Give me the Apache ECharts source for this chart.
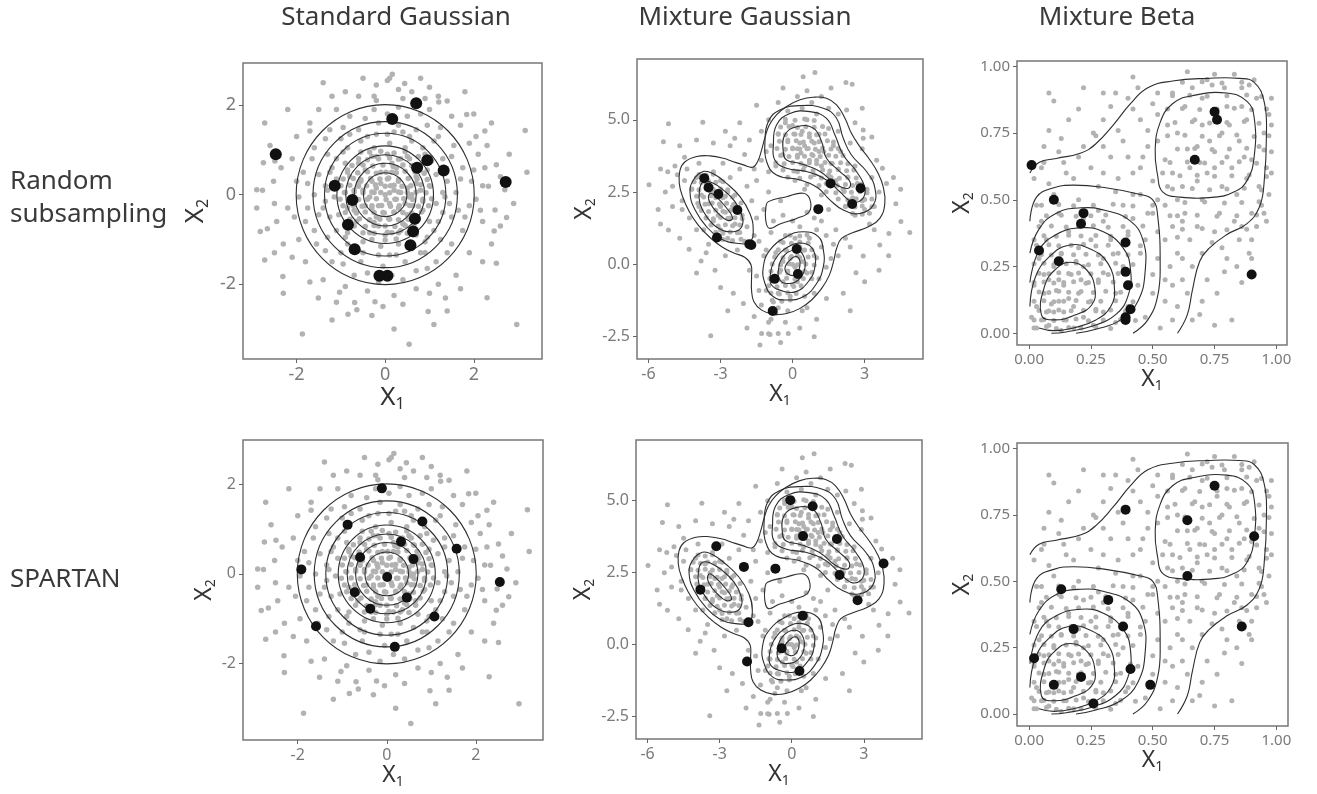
<!DOCTYPE html>
<html>
<head>
<meta charset="utf-8">
<title>Random subsampling vs SPARTAN</title>
<script src="https://cdn.jsdelivr.net/npm/echarts@6/dist/echarts.min.js"></script>
<style>
  html, body, #main { width: 100%; height: 100%; margin: 0; padding: 0; overflow: hidden; background: #fff; }
</style>
</head>
<body>
<div id="main"></div>
<script>
// labels
var colTitles = ['Standard Gaussian', 'Mixture Gaussian', 'Mixture Beta'];
var rowLabels = ['Random\nsubsampling', 'SPARTAN'];

// tick values
var stdTicks = [-2, 0, 2];
var mixXTicks = [-6, -3, 0, 3];
var mixYTicks = [-2.5, 0, 2.5, 5];
var betaTicks = [0, 0.25, 0.5, 0.75, 1];

// full samples (grey) (thinned)
var stdCloud = [
  [0.16,2.69],[0.1,2.6],[0.05,2.55],[0.44,2.48],[-2.72,1.6],[3.16,1.43],[-2.9,0.11],[-2.77,0.1],[-2.82,-0.82],[-2.66,-0.76],
  [-2.72,-1.46],[-2.31,-1.83],[-1.87,-3.11],[0.54,-3.34],[2.97,-2.9],[2.51,-1.53],[2.46,-0.81],[2.74,-0.51],[2.48,-0.34],[2.25,1.42],
  [1.84,1.79],[2.51,0.67],[2.25,0.6],[2.33,0.19],[2.7,0.11],[-1.51,-2.31],[-1.03,-2.18],[-0.84,-2.67],[-0.64,-2.57],[-0.69,-2.41],
  [-0.23,-2.39],[0.97,-2.61],[1.36,-2.31],[-2.52,0.3],[-2.49,0.75],[-2.75,0.71],[-1.7,1.42],[1.4,2.09],[1.21,2.07],[-0.25,2.2],
  [0,0],[0.2,0.1],[-0.2,0.15],[0.1,-0.2],[-0.15,-0.25],[0.35,0.05],[-0.35,-0.05],[0.05,0.35],[-0.05,-0.4],[0.3,0.3],
  [-0.3,0.3],[0.3,-0.3],[-0.3,-0.3],[0.5,0.15],[-0.5,0.1],[0.15,0.5],[-0.1,0.5],[0.45,-0.2],[-0.45,-0.25],[0.1,-0.55],
  [-0.2,-0.5],[0.55,-0.05],[-0.55,0.3],[0.2,-0.4],[-0.1,0.25],[0.12,0.2],[-0.25,0.05],[0.25,-0.1],
  [0.8,0.1],[0.7,0.4],[0.6,0.65],[0.35,0.8],[0.05,0.9],[-0.3,0.85],[-0.6,0.7],[-0.8,0.4],[-0.9,0.05],[-0.85,-0.3],
  [-0.65,-0.6],[-0.35,-0.85],[0,-0.9],[0.35,-0.8],[0.65,-0.6],[0.85,-0.35],[1.0,0.2],[0.95,0.55],[0.75,0.85],[0.45,1.05],
  [0.1,1.15],[-0.25,1.05],[-0.55,0.95],[-0.9,0.7],[-1.1,0.35],[-1.15,-0.05],[-1.05,-0.45],[-0.85,-0.85],[-0.5,-1.05],[-0.1,-1.15],
  [0.3,-1.1],[0.7,-0.9],[1.0,-0.6],[1.15,-0.2],[0.6,0.0],[-0.7,0.1],[0.15,0.7],[-0.15,-0.7],[0.5,-0.45],[-0.45,0.55],
  [1.4,0.3],[1.3,0.8],[1.1,1.2],[0.7,1.45],[0.3,1.55],[-0.15,1.6],[-0.6,1.45],[-1.0,1.25],[-1.3,0.9],[-1.5,0.45],
  [-1.6,0],[-1.5,-0.45],[-1.3,-0.95],[-1.0,-1.3],[-0.55,-1.5],[-0.05,-1.6],[0.45,-1.5],[0.9,-1.3],[1.25,-1.0],[1.5,-0.5],
  [1.6,0.05],[1.75,0.6],[1.55,1.1],[1.25,1.5],[0.8,1.8],[0.3,1.95],[-0.25,1.9],[-0.8,1.75],[-1.25,1.45],[-1.6,1.05],
  [-1.85,0.5],[-1.95,-0.05],[-1.8,-0.6],[-1.55,-1.1],[-1.2,-1.5],[-0.7,-1.8],[-0.15,-1.95],[0.4,-1.9],[0.95,-1.65],[1.4,-1.3],
  [1.75,-0.8],[1.9,-0.25],[1.95,0.3],[-2.1,0.8],[-2.2,-0.3],[2.2,-0.6],[2.1,0.9],[0.9,2.15],[-0.6,2.2],[0.2,-2.25],
  [-1.4,-1.9],[1.6,-1.8],[1.7,1.55],[-1.7,1.6],[1.2,-2.0],[-0.9,-2.05],[-2.3,-1.1],[2.3,1.1],[0.6,2.3],
  [0.25,0.6],[-0.6,0.25],[0.62,-0.25],[-0.25,-0.62],[0.9,0.9],[-0.95,0.95],[0.95,-0.95],[-0.9,-0.95],[1.3,0.05],[-1.3,0.1],
  [0.05,1.35],[0.1,-1.35],[1.2,-0.6],[-1.2,0.6],[0.6,1.2],[-0.6,-1.25],[1.45,-0.2],[-1.4,-0.3],[0.4,1.4],[-0.4,1.3],
  [0.8,-1.3],[-0.8,1.35],[0.5,0.85],[-0.85,0.55],[0.85,-0.15],[-0.2,0.85],[0.15,-0.85],[-0.7,-0.35],[0.4,-0.65],[0.7,0.25],
  [-0.35,0.95],[-0.1,0.97],[0.2,0.93],[0.45,0.96],[-0.6,0.8],[-0.4,0.78],[-0.15,0.8],[0.1,0.82],[0.3,0.79],[0.55,0.8],
  [-0.75,0.65],[-0.5,0.66],[-0.28,0.64],[-0.05,0.66],[0.18,0.63],[0.4,0.66],[0.62,0.64],[0.8,0.66],
  [-0.85,0.5],[-0.62,0.49],[-0.4,0.51],[-0.2,0.48],[0.02,0.5],[0.25,0.49],[0.45,0.52],[0.68,0.5],[0.88,0.48],
  [-0.95,0.35],[-0.72,0.36],[-0.55,0.34],[-0.33,0.36],[-0.12,0.35],[0.08,0.37],[0.3,0.34],[0.52,0.36],[0.72,0.35],[0.95,0.34],
  [-1.0,0.2],[-0.8,0.21],[-0.6,0.19],[-0.42,0.2],[-0.22,0.22],[0,0.19],[0.2,0.21],[0.38,0.19],[0.58,0.2],[0.8,0.22],[1.02,0.19],
  [-0.92,0.05],[-0.7,0.06],[-0.5,0.04],[-0.3,0.06],[-0.1,0.05],[0.1,0.04],[0.3,0.06],[0.5,0.05],[0.7,0.06],[0.92,0.04],
  [-1.02,-0.1],[-0.8,-0.09],[-0.6,-0.11],[-0.4,-0.1],[-0.2,-0.09],[0.02,-0.11],[0.22,-0.1],[0.42,-0.09],[0.62,-0.11],[0.85,-0.1],[1.05,-0.09],
  [-0.95,-0.25],[-0.72,-0.24],[-0.52,-0.26],[-0.3,-0.25],[-0.08,-0.24],[0.12,-0.26],[0.32,-0.25],[0.55,-0.24],[0.75,-0.26],[0.98,-0.25],
  [-0.9,-0.4],[-0.65,-0.41],[-0.45,-0.39],[-0.25,-0.4],[-0.02,-0.41],[0.2,-0.39],[0.4,-0.4],[0.6,-0.41],[0.82,-0.39],
  [-0.8,-0.55],[-0.58,-0.54],[-0.35,-0.56],[-0.12,-0.55],[0.08,-0.54],[0.3,-0.56],[0.52,-0.55],[0.75,-0.54],
  [-0.7,-0.7],[-0.45,-0.71],[-0.25,-0.69],[0,-0.7],[0.22,-0.71],[0.45,-0.69],[0.65,-0.7],
  [-0.5,-0.85],[-0.25,-0.86],[0.05,-0.84],[0.3,-0.85],[0.5,-0.86],[-0.3,-1.0],[0,-1.01],[0.25,-0.99],
  [1.15,0.45],[1.05,0.75],[0.85,1.05],[0.55,1.3],[0.2,1.4],[-0.2,1.35],[-0.55,1.2],[-0.85,1.05],[-1.1,0.8],[-1.25,0.5],
  [-1.35,0.2],[-1.35,-0.15],[-1.25,-0.5],[-1.1,-0.8],[-0.85,-1.1],[-0.5,-1.3],[-0.15,-1.35],[0.25,-1.35],[0.6,-1.2],[0.9,-1.05],
  [1.1,-0.8],[1.3,-0.4],[1.35,-0.05],[1.3,0.6],[1.65,-0.35],[1.7,0.35],[1.5,0.85],[1.2,1.3],[0.95,1.55],[0.5,1.75],
  [0.05,1.8],[-0.45,1.7],[-0.95,1.5],[-1.35,1.25],[-1.65,0.8],[-1.75,0.25],[-1.75,-0.3],[-1.6,-0.8],[-1.35,-1.25],[-0.95,-1.55],
  [-0.4,-1.75],[0.15,-1.8],[0.7,-1.7],[1.15,-1.5],[1.5,-1.1],[1.8,-0.5],[2.05,-0.1],[2.0,0.55],[1.9,1.15],[-2.0,0.3],
  [-2.05,-0.5],[-1.95,-1.0],[1.0,1.9],[-0.2,2.1],[0.4,2.15],[-1.1,1.9],[0.7,-2.1],[-0.4,-2.15],[1.9,-1.3],[-1.8,-1.5],
  [2.4,-1.1],[-2.5,-0.2],[2.6,0.4],[-0.05,-2.5],[1.0,2.4],[-1.2,2.2],[1.4,-2.6],[-2.2,1.9],
  [2.2,0.2],[2.15,-0.35],[2.05,1.3],[1.5,1.75],[1.2,2.2],[0.3,2.35],[-0.2,2.45],[-0.9,2.3],[-1.5,1.9],[-2.0,1.3],
  [-2.35,0.6],[-2.45,-0.6],[-2.1,-1.4],[-1.7,-1.95],[-1.1,-2.4],[-0.3,-2.7],[0.4,-2.45],[1.0,-2.2],[1.7,-2.1],[2.2,-1.5],
  [2.6,-0.7],[2.8,0.9],[2.0,1.8],[-2.6,1.1],[-2.9,-0.3],[-2.5,-1.3],[1.8,2.3],[-1.4,2.5],[0.8,2.6],[-0.5,2.6],
  [2.4,1.6],[2.9,-0.2],[-1.2,-2.8],[0.2,-3.0],[1.1,-2.9],[-2.3,-2.2],[2.3,-2.3],[3.2,0.5]
];

var mixCloud = [
  [0.44,6.49],[0.93,6.63],[2.22,6.29],[2.48,6.23],[-5.17,4.86],[-5.38,4.24],[-5.98,2.75],[-5.17,1.19],[-3.74,4.91],[-2.41,4.36],
  [4.88,1.1],[4.51,1.48],[4.01,1.07],[3.63,0.67],[2.94,0.29],[2.64,-0.29],[2.11,-1.0],[1.41,-1.18],[-3.41,-2.47],[-1.36,-2.79],
  [-1.29,-2.39],[-0.94,-2.42],[-0.6,-2.39],[-0.18,-2.39],[-4.31,0.52],[-3.81,0.12],[-3.23,-0.2],[-2.47,-1.0],[-2.05,-1.35],[2.94,4.65],
  [2.25,5.34],[2.94,4.36],[3.74,3.32],[3.91,2.8],
  [-3,2],[-3.2,2.3],[-2.8,1.8],[-3.4,2.5],[-2.6,1.6],[-3.6,2.8],[-2.4,1.4],[-3.1,1.7],[-2.9,2.3],[-3.5,2.1],
  [-2.5,2.0],[-3.3,1.5],[-2.7,2.5],[-3.8,2.4],[-2.2,1.1],[-4.0,3.0],[-3.9,2.0],[-2.1,1.7],[-3.0,1.2],[-3.0,2.9],
  [-4.2,2.6],[-1.9,1.3],[-3.6,1.6],[-2.4,2.4],[-4.4,3.3],[-2.0,0.8],[-3.3,3.2],[-4.6,2.2],[-2.7,0.9],[-3.7,1.2],
  [-4.8,3.1],[-1.6,1.0],[-3.9,3.5],[-2.3,0.5],[-4.3,1.6],[-5.0,2.7],[-3.5,0.7],[-2.9,3.5],[-4.9,3.4],[-1.5,1.6],
  [-2.6,3.0],[-5.2,3.2],
  [0,0],[0.2,0.3],[-0.2,-0.3],[0.1,-0.1],[-0.1,0.2],[0.3,0.6],[-0.4,-0.6],[0.4,0.1],[-0.4,0.1],[0.0,-0.7],
  [0.1,0.9],[-0.6,-1.0],[0.5,0.5],[-0.5,-0.2],[0.6,-0.3],[-0.3,0.5],[0.2,-0.6],[-0.8,-1.3],[0.7,0.9],[-0.1,-1.1],
  [0.9,0.3],[-0.9,-0.5],[0.3,1.3],[-0.7,-1.7],[1.0,1.2],[-1.1,-0.9],[0.8,-0.5],[-0.2,-1.6],[0.5,-1.1],[-1.3,-1.4],
  [1.2,0.6],[-0.5,0.8],[-1.0,-2.0],[0.4,-1.6],[1.4,1.0],[-1.5,-0.4],[-0.3,-2.0],[0.9,-1.0],[-1.2,0.3],[1.6,0.2],
  [-0.7,0.4],
  [0.3,4.2],[0.6,4.0],[0.1,4.5],[0.8,3.8],[0.4,4.6],[1.0,3.6],[0.0,4.0],[1.2,3.4],[0.7,4.4],[1.5,3.1],
  [0.2,3.7],[1.8,2.9],[0.9,4.2],[2.1,2.6],[-0.2,4.3],[1.3,3.9],[2.3,3.0],[0.5,3.4],[1.6,3.5],[2.5,2.3],
  [0.0,4.8],[1.1,4.5],[1.9,3.3],[2.7,2.8],[-0.4,3.8],[0.6,5.0],[1.4,2.8],[2.2,2.0],[0.9,3.1],[2.9,2.2],
  [-0.3,4.9],[1.0,5.2],[1.7,4.1],[2.6,3.4],[0.2,3.2],[3.1,2.6],[-0.6,4.5],[0.4,5.4],[1.5,4.7],[2.0,3.9],
  [3.0,1.9],[0.1,2.9],[1.2,2.4],[2.6,1.7],[-0.7,3.4],[1.9,4.6],[3.3,3.0],[0.8,5.6],[-0.2,5.3],[1.5,5.4],
  [3.4,2.0],[2.4,4.2],[3.2,1.4],[0.5,2.6],[-0.9,4.1],[0.5,4.1],[0.2,4.0],[0.7,3.6],[0.35,3.85],[1.1,3.9],
  [-1.0,2.5],[-0.5,2.2],[-1.5,2.9],[-0.8,1.5],[-1.3,3.6],[-1.8,4.3],[-0.3,1.0],[0.6,1.8],[1.2,1.5],[-1.2,1.9],
  [-2.0,3.8],[-1.0,3.2],[1.8,1.2],[2.2,0.9],[-2.6,4.1],[0.0,1.5],[-1.7,2.2],
  [-0.3,5.02],[0.1,4.98],[0.5,5.03],[0.9,4.97],[-0.5,4.75],[-0.15,4.77],[0.2,4.73],[0.55,4.76],[0.9,4.74],[1.25,4.77],
  [-0.6,4.52],[-0.3,4.48],[0.05,4.51],[0.35,4.49],[0.7,4.52],[1.0,4.48],[1.35,4.51],
  [-0.55,4.26],[-0.2,4.24],[0.15,4.27],[0.45,4.23],[0.8,4.26],[1.1,4.24],[1.45,4.27],[1.7,4.23],
  [-0.65,4.01],[-0.3,3.98],[0.0,4.02],[0.3,3.99],[0.65,4.01],[0.95,3.98],[1.25,4.02],[1.6,3.99],[1.9,4.01],
  [-0.5,3.76],[-0.15,3.73],[0.2,3.77],[0.5,3.74],[0.85,3.76],[1.15,3.73],[1.5,3.77],[1.8,3.74],[2.1,3.76],
  [-0.7,3.51],[-0.35,3.48],[0.0,3.52],[0.35,3.49],[0.7,3.51],[1.0,3.48],[1.35,3.52],[1.65,3.49],[2.0,3.51],[2.3,3.48],
  [-0.4,3.26],[0.05,3.23],[0.45,3.27],[0.85,3.24],[1.25,3.26],[1.55,3.23],[1.9,3.27],[2.25,3.24],[2.55,3.26],
  [-0.2,3.01],[0.3,2.98],[0.75,3.02],[1.2,2.99],[1.6,3.01],[1.95,2.98],[2.3,3.02],[2.65,2.99],
  [0.6,2.76],[1.1,2.73],[1.5,2.77],[1.85,2.74],[2.2,2.76],[2.5,2.73],[2.85,2.77],
  [1.4,2.51],[1.8,2.48],[2.15,2.52],[2.45,2.49],[2.8,2.51],[3.1,2.48],[1.9,2.26],[2.3,2.23],[2.65,2.27],[3.0,2.24],
  [3.3,2.26],[2.2,2.01],[2.6,1.98],[2.9,2.02],[3.3,1.99],[2.5,1.76],[2.9,1.73],[3.2,1.77],
  [-3.9,3.11],[-3.6,3.08],[-3.3,3.12],[-4.1,2.86],[-3.8,2.83],[-3.5,2.87],[-3.2,2.84],[-2.9,2.86],
  [-4.2,2.61],[-3.9,2.58],[-3.6,2.62],[-3.3,2.59],[-3.0,2.61],[-2.7,2.58],[-4.0,2.36],[-3.7,2.33],[-3.4,2.37],[-3.1,2.34],
  [-2.8,2.36],[-2.5,2.33],[-3.95,2.11],[-3.65,2.08],[-3.35,2.12],[-3.05,2.09],[-2.75,2.11],[-2.45,2.08],[-2.15,2.12],
  [-3.8,1.86],[-3.5,1.83],[-3.2,1.87],[-2.9,1.84],[-2.6,1.86],[-2.3,1.83],[-3.6,1.61],[-3.3,1.58],[-3.0,1.62],[-2.7,1.59],
  [-2.4,1.61],[-2.1,1.58],[-3.4,1.36],[-3.1,1.33],[-2.8,1.37],[-2.5,1.34],[-2.2,1.36],[-3.2,1.11],[-2.9,1.08],[-2.6,1.12],
  [-2.3,1.09],[-2.9,0.86],[-2.5,0.83],[-2.15,0.87],
  [-0.1,1.01],[0.3,0.98],[0.6,1.02],[-0.4,0.76],[-0.05,0.73],[0.3,0.77],[0.65,0.74],[-0.6,0.51],[-0.25,0.48],[0.1,0.52],
  [0.45,0.49],[0.8,0.51],[-0.75,0.26],[-0.4,0.23],[-0.05,0.27],[0.3,0.24],[0.65,0.26],[1.0,0.23],[-0.85,0.01],[-0.5,-0.02],
  [-0.15,0.02],[0.2,-0.01],[0.55,0.01],[0.9,-0.02],[-0.9,-0.24],[-0.55,-0.27],[-0.2,-0.23],[0.15,-0.26],[0.5,-0.24],[0.8,-0.27],
  [-0.95,-0.49],[-0.6,-0.52],[-0.25,-0.48],[0.1,-0.51],[0.45,-0.49],[-1.0,-0.74],[-0.65,-0.77],[-0.3,-0.73],[0.05,-0.76],[0.35,-0.74],
  [-0.9,-0.99],[-0.55,-1.02],[-0.2,-0.98],[0.15,-1.01],[-0.85,-1.24],[-0.45,-1.27],[-0.1,-1.23],[-0.6,-1.5],
  [-1.4,0.8],[-1.1,0.5],[-0.9,1.1],[0.9,1.6],[1.5,1.9],[1.7,0.7],[2.4,0.6],[-0.4,1.7],[-1.6,3.3],[-2.2,3.3],
  [-1.9,2.7],[-4.5,2.9],[-4.6,1.9],[-4.0,1.2],[-3.6,0.4],[-2.8,0.3],[-1.8,-0.2],[-1.4,-0.9],[-1.6,-1.8],[-0.9,-1.9],
  [0.6,-1.5],[1.1,-0.5],[1.4,-0.1],[1.9,0.3],[3.4,1.2],[3.6,2.5],[3.5,3.6],[2.9,4.0],[2.6,4.9],[1.9,5.2],
  [1.2,5.8],[0.2,5.8],[-0.6,5.6],[-1.0,5.0],[-1.3,4.6],[-1.1,3.9],[-5.5,3.3],[-4.7,4.1],[-5.6,1.9],[4.3,2.1],
  [-5.0,2.0],[-5.3,2.5],[-4.5,3.7],[-4.0,4.3],[-3.3,4.2],[-2.8,4.6],[-2.2,4.9],[-1.5,5.5],[-0.4,6.1],[0.6,6.0],
  [1.6,6.1],[2.9,5.4],[3.3,4.4],[4.2,3.0],[4.5,2.6],[4.0,0.3],[3.0,-0.6],[2.4,-1.6],[1.0,-1.9],[0.3,-2.2],
  [-0.5,-2.7],[-1.9,-2.2],[-2.7,-1.6],[-3.0,-0.8],[-4.0,-0.3],[-4.7,0.9],[-5.5,1.4],[-1.0,-2.4],[0.9,-2.5],[3.6,-0.2]
];

var betaCloud = [
  [0.08,0.9],[0.1,0.87],[0.13,0.73],[0.26,0.75],[0.75,0.03],[0.79,0.23],[0.69,0.07],[0.86,0.19],[0.98,0.88],[0.89,0.93],
  [0.75,0.97],[0.83,0.97],
  [0.02,0.02],[0.05,0.05],[0.08,0.03],[0.03,0.1],[0.1,0.08],[0.12,0.12],[0.06,0.15],[0.15,0.05],[0.18,0.1],[0.14,0.18],
  [0.08,0.2],[0.2,0.15],[0.22,0.06],[0.1,0.25],[0.17,0.22],[0.25,0.12],[0.04,0.28],[0.13,0.3],[0.22,0.25],[0.28,0.2],
  [0.3,0.08],[0.02,0.18],[0.26,0.03],[0.2,0.32],[0.3,0.28],[0.35,0.15],[0.07,0.35],[0.16,0.38],[0.25,0.35],[0.33,0.35],
  [0.38,0.25],[0.4,0.1],[0.35,0.04],[0.05,0.42],[0.12,0.45],[0.22,0.43],[0.3,0.42],[0.4,0.38],[0.45,0.3],[0.44,0.18],
  [0.47,0.06],[0.02,0.35],[0.18,0.02],[0.11,0.16],[0.19,0.27],[0.27,0.09],[0.09,0.11],[0.14,0.08],[0.06,0.22],[0.24,0.19],
  [0.32,0.22],[0.36,0.3],[0.42,0.43],[0.01,0.06],[0.13,0.01],[0.38,0.48],[0.5,0.22],[0.52,0.38],[0.48,0.45],[0.55,0.12],
  [0.53,0.02],[0.03,0.48],[0.1,0.52],[0.2,0.5],[0.28,0.55],[0.35,0.53],[0.16,0.13],[0.12,0.2],[0.21,0.2],[0.07,0.08],
  [0.02,0.58],[0.06,0.64],[0.15,0.6],[0.25,0.62],[0.33,0.66],[0.42,0.6],[0.45,0.52],[0.5,0.57],[0.55,0.48],[0.58,0.4],
  [0.6,0.3],[0.12,0.68],[0.22,0.7],[0.38,0.72],[0.45,0.8],[0.3,0.8],[0.4,0.88],[0.35,0.9],[0.2,0.84],[0.48,0.7],
  [0.52,0.82],[0.55,0.65],[0.58,0.9],[0.62,0.2],[0.65,0.35],[0.66,0.05],[0.08,0.76],[0.28,0.46],[0.47,0.35],[0.57,0.25],
  [0.62,0.55],[0.65,0.62],[0.68,0.7],[0.7,0.78],[0.72,0.6],[0.75,0.68],[0.78,0.75],[0.8,0.85],[0.82,0.62],[0.85,0.72],
  [0.88,0.8],[0.9,0.65],[0.92,0.88],[0.95,0.75],[0.6,0.75],[0.63,0.85],[0.66,0.92],[0.7,0.88],[0.74,0.93],[0.78,0.55],
  [0.84,0.52],[0.88,0.58],[0.93,0.55],[0.96,0.62],[0.97,0.82],[0.86,0.92],[0.76,0.82],[0.73,0.72],[0.8,0.66],[0.69,0.64],
  [0.64,0.69],[0.58,0.6],[0.6,0.5],[0.7,0.5],[0.77,0.45],[0.83,0.42],[0.9,0.45],[0.94,0.48],[0.98,0.68],[0.91,0.95],
  [0.67,0.8],[0.72,0.95],[0.79,0.92],[0.86,0.85],[0.93,0.7],[0.81,0.78],[0.75,0.62],[0.68,0.57],[0.63,0.45],[0.87,0.66],
  [0.92,0.4],[0.85,0.35],[0.75,0.38],[0.7,0.3],[0.96,0.42],[0.89,0.3],[0.8,0.28],
  [0.03,0.02],[0.07,0.025],[0.11,0.018],[0.16,0.022],[0.21,0.02],[0.27,0.024],[0.33,0.018],
  [0.02,0.05],[0.06,0.052],[0.1,0.048],[0.14,0.05],[0.19,0.053],[0.24,0.047],[0.3,0.05],[0.37,0.052],[0.43,0.048],
  [0.04,0.085],[0.08,0.083],[0.12,0.087],[0.17,0.084],[0.22,0.086],[0.27,0.083],[0.33,0.087],[0.39,0.084],
  [0.02,0.12],[0.06,0.122],[0.1,0.118],[0.14,0.12],[0.19,0.123],[0.24,0.117],[0.29,0.12],[0.35,0.122],[0.42,0.118],
  [0.04,0.155],[0.08,0.153],[0.12,0.157],[0.16,0.154],[0.21,0.156],[0.26,0.153],[0.31,0.157],[0.37,0.154],
  [0.02,0.19],[0.06,0.192],[0.1,0.188],[0.14,0.19],[0.18,0.193],[0.23,0.187],[0.28,0.19],[0.34,0.192],[0.41,0.188],
  [0.04,0.225],[0.08,0.223],[0.12,0.227],[0.16,0.224],[0.2,0.226],[0.25,0.223],[0.3,0.227],[0.36,0.224],
  [0.02,0.26],[0.06,0.262],[0.1,0.258],[0.15,0.26],[0.19,0.263],[0.24,0.257],[0.29,0.26],[0.35,0.262],[0.42,0.258],
  [0.05,0.295],[0.09,0.293],[0.13,0.297],[0.18,0.294],[0.23,0.296],[0.28,0.293],[0.34,0.297],[0.4,0.294],
  [0.03,0.33],[0.08,0.332],[0.12,0.328],[0.17,0.33],[0.22,0.333],[0.27,0.327],[0.32,0.33],[0.38,0.332],[0.45,0.328],
  [0.06,0.365],[0.11,0.363],[0.16,0.367],[0.21,0.364],[0.27,0.366],[0.33,0.363],[0.4,0.367],
  [0.04,0.4],[0.09,0.402],[0.15,0.398],[0.2,0.4],[0.26,0.403],[0.32,0.397],[0.38,0.4],[0.46,0.402],
  [0.07,0.44],[0.13,0.442],[0.19,0.438],[0.25,0.44],[0.31,0.443],[0.39,0.437],
  [0.05,0.48],[0.12,0.482],[0.18,0.478],[0.26,0.48],[0.34,0.483],[0.42,0.477],[0.5,0.48],
  [0.62,0.94],[0.7,0.942],[0.78,0.938],[0.86,0.94],[0.58,0.89],[0.65,0.892],[0.72,0.888],[0.8,0.89],[0.88,0.893],[0.94,0.887],
  [0.56,0.84],[0.62,0.842],[0.69,0.838],[0.76,0.84],[0.83,0.843],[0.9,0.837],[0.96,0.84],
  [0.59,0.79],[0.66,0.792],[0.73,0.788],[0.8,0.79],[0.87,0.793],[0.93,0.787],
  [0.56,0.74],[0.63,0.742],[0.7,0.738],[0.77,0.74],[0.84,0.743],[0.91,0.737],[0.97,0.74],
  [0.6,0.69],[0.67,0.692],[0.74,0.688],[0.81,0.69],[0.88,0.693],[0.95,0.687],
  [0.57,0.64],[0.64,0.642],[0.71,0.638],[0.78,0.64],[0.85,0.643],[0.92,0.637],
  [0.61,0.59],[0.68,0.592],[0.75,0.588],[0.82,0.59],[0.89,0.593],[0.96,0.587],
  [0.58,0.54],[0.66,0.542],[0.73,0.538],[0.8,0.54],[0.87,0.543],[0.94,0.537],
  [0.63,0.49],[0.71,0.492],[0.79,0.488],[0.86,0.49],[0.93,0.493],[0.6,0.44],[0.68,0.442],[0.76,0.438],[0.84,0.44],[0.92,0.443],
  [0.62,0.39],[0.7,0.392],[0.8,0.388],[0.88,0.39],
  [0.45,0.62],[0.4,0.66],[0.48,0.76],[0.52,0.72],[0.5,0.45],[0.55,0.35],[0.58,0.18],[0.6,0.1],[0.52,0.28],[0.3,0.6],
  [0.18,0.58],[0.08,0.56],[0.36,0.58],[0.42,0.52],[0.56,0.55],[0.62,0.42],[0.66,0.25],[0.64,0.15],[0.72,0.2],[0.78,0.32],
  [0.27,0.74],[0.33,0.85],[0.16,0.8],[0.44,0.92],[0.52,0.9],[0.98,0.6],[0.98,0.78],[0.97,0.52],[0.9,0.35],[0.84,0.25],
  [0.06,0.7],[0.14,0.64],[0.2,0.66],[0.3,0.7],[0.36,0.76],[0.42,0.84],[0.5,0.86],[0.56,0.78],[0.46,0.66],[0.54,0.6],
  [0.52,0.5],[0.57,0.44],[0.6,0.36],[0.55,0.2],[0.5,0.15],[0.58,0.05],[0.62,0.28],[0.68,0.4],[0.74,0.34],[0.86,0.4],
  [0.95,0.45],[0.7,0.12],[0.76,0.15],[0.82,0.05],[0.9,0.28],[0.22,0.92],[0.3,0.9],[0.42,0.96],[0.64,0.98],[0.05,0.62]
];

// selected subsamples (black)
var stdRandom = [[0.7,2.04],[0.16,1.69],[-2.47,0.9],[0.95,0.77],[0.72,0.6],[1.32,0.54],[-1.14,0.2],[2.72,0.28],[-0.74,-0.12],[0.67,-0.54],[-0.84,-0.67],[0.63,-0.82],[0.57,-1.13],[-0.69,-1.22],[-0.13,-1.81],[0.05,-1.81]];
var stdSpartan = [[-0.11,1.91],[-0.88,1.1],[0.8,1.17],[0.32,0.72],[1.57,0.56],[-0.6,0.37],[0.6,0.33],[-1.92,0.1],[0.01,-0.07],[2.54,-0.18],[-0.72,-0.41],[0.45,-0.53],[-0.37,-0.78],[1.07,-0.95],[-1.59,-1.17],[0.18,-1.63]];
var mixRandom = [[-3.68,2.98],[-3.5,2.66],[-3.09,2.43],[-2.3,1.88],[-3.15,0.93],[-1.8,0.7],[-1.72,0.67],[1.58,2.8],[2.83,2.63],[2.48,2.09],[1.07,1.91],[0.17,0.53],[0.22,-0.33],[-0.75,-0.5],[-0.83,-1.61]];
var mixSpartan = [[-0.06,5.02],[0.87,4.81],[0.47,3.77],[1.88,3.67],[-3.14,3.42],[-1.99,2.7],[-0.68,2.64],[1.99,2.42],[3.82,2.82],[-3.8,1.91],[2.74,1.54],[-1.8,0.78],[0.46,1.0],[-0.42,-0.13],[-1.86,-0.59],[0.32,-0.92]];
var betaRandom = [[0.01,0.63],[0.1,0.5],[0.22,0.45],[0.21,0.41],[0.04,0.31],[0.12,0.27],[0.39,0.34],[0.39,0.23],[0.4,0.18],[0.41,0.09],[0.39,0.06],[0.39,0.05],[0.75,0.83],[0.76,0.8],[0.67,0.65],[0.9,0.22]];
var betaSpartan = [[0.39,0.77],[0.75,0.86],[0.64,0.73],[0.91,0.67],[0.64,0.52],[0.13,0.47],[0.32,0.43],[0.38,0.33],[0.18,0.32],[0.86,0.33],[0.02,0.21],[0.41,0.17],[0.21,0.14],[0.1,0.11],[0.49,0.11],[0.26,0.04]];

// density contours
var stdRadii = [0.49, 0.7, 0.89, 1.09, 1.37, 1.63, 2.01];

var mixLoops = [
  [[-1.66,3.36],[-2.05,3.44],[-2.47,3.55],[-2.88,3.67],[-3.44,3.75],[-3.99,3.73],[-4.48,3.55],[-4.69,3.26],[-4.72,2.8],[-4.58,2.34],[-4.3,1.82],[-3.93,1.36],[-3.44,0.93],[-2.95,0.61],[-2.47,0.4],[-1.98,0.24],[-1.73,-0.02],[-1.71,-0.43],[-1.71,-0.89],[-1.61,-1.29],[-1.29,-1.58],[-0.8,-1.72],[-0.25,-1.7],[0.31,-1.52],[0.79,-1.23],[1.21,-0.83],[1.53,-0.37],[1.72,0.15],[1.83,0.55],[2.04,0.9],[2.52,1.1],[3.15,1.3],[3.63,1.59],[3.84,2.11],[3.77,2.69],[3.56,3.15],[3.22,3.61],[2.8,4.07],[2.45,4.53],[2.18,5.05],[1.83,5.51],[1.41,5.74],[0.86,5.78],[0.31,5.69],[-0.25,5.46],[-0.67,5.17],[-0.97,4.82],[-1.15,4.39],[-1.29,3.96],[-1.46,3.55]],
  [[-1.01,2.17],[-0.25,2.34],[0.44,2.46],[0.72,2.25],[0.69,1.82],[0.17,1.59],[-0.53,1.4],[-0.97,1.25],[-1.12,1.53],[-1.11,2.0]],
  [[-3.72,3.21],[-4.13,2.92],[-4.27,2.46],[-4.06,1.88],[-3.58,1.3],[-3.02,0.9],[-2.33,0.73],[-1.78,0.78],[-1.64,1.19],[-1.78,1.76],[-2.19,2.34],[-2.75,2.8],[-3.3,3.13]],
  [[-3.72,2.86],[-3.88,2.57],[-3.86,2.11],[-3.58,1.65],[-3.09,1.25],[-2.47,1.13],[-2.12,1.3],[-2.12,1.71],[-2.4,2.17],[-2.88,2.57],[-3.37,2.83]],
  [[-3.45,2.45],[-3.2,2.35],[-2.75,1.95],[-2.5,1.6],[-2.7,1.52],[-3.05,1.72],[-3.45,2.15]],
  [[-1.15,4.24],[-1.01,4.94],[-0.53,5.34],[0.31,5.49],[1.28,5.4],[1.83,5.05],[2.11,4.36],[2.45,3.78],[3.08,3.21],[3.43,2.63],[3.36,2.05],[2.8,1.76],[2.11,1.88],[1.55,2.23],[1.07,2.63],[0.31,2.92],[-0.67,3.09],[-1.08,3.55]],
  [[-0.8,4.13],[-0.67,4.82],[-0.11,5.22],[0.72,5.28],[1.41,5.05],[1.76,4.48],[2.11,3.78],[2.66,3.21],[3.01,2.63],[2.87,2.23],[2.45,2.17],[1.97,2.51],[1.41,2.92],[0.58,3.21],[-0.25,3.32],[-0.74,3.61]],
  [[-0.39,3.9],[-0.32,4.48],[0.17,4.76],[0.86,4.71],[1.21,4.24],[1.41,3.67],[1.97,3.21],[2.39,2.86],[2.32,2.63],[1.83,2.75],[1.14,3.21],[0.31,3.49],[-0.25,3.61]],
  [[-1.22,-0.08],[-0.94,0.5],[-0.25,0.96],[0.44,1.13],[1.07,0.96],[1.28,0.5],[1.28,-0.08],[1.0,-0.66],[0.44,-1.12],[-0.25,-1.23],[-0.8,-1.12],[-1.15,-0.66]],
  [[-0.94,-0.43],[-0.74,0.15],[-0.18,0.61],[0.44,0.73],[0.86,0.5],[0.93,-0.08],[0.65,-0.6],[0.1,-0.95],[-0.53,-0.89],[-0.87,-0.72]],
  [[-0.6,-0.25],[-0.39,0.27],[0.1,0.5],[0.44,0.32],[0.51,-0.14],[0.24,-0.54],[-0.25,-0.66],[-0.53,-0.54]],
  [[-0.32,-0.14],[-0.11,0.15],[0.17,0.27],[0.31,0.03],[0.17,-0.31],[-0.11,-0.37]]
];

var betaLoops = [
  [[0.53,0.79],[0.58,0.86],[0.66,0.89],[0.8,0.9],[0.88,0.87],[0.91,0.81],[0.91,0.66],[0.88,0.57],[0.83,0.53],[0.75,0.51],[0.61,0.51],[0.54,0.53],[0.52,0.59],[0.51,0.69]],
  [[0.05,0.068],[0.064,0.18],[0.104,0.237],[0.165,0.266],[0.233,0.237],[0.266,0.168],[0.253,0.106],[0.185,0.068],[0.104,0.05]]
];
var betaCurves = [
  [[0.003,0.6],[0.04,0.64],[0.11,0.655],[0.21,0.675],[0.27,0.71],[0.34,0.78],[0.41,0.86],[0.48,0.92],[0.58,0.945],[0.72,0.955],[0.85,0.955],[0.91,0.94],[0.95,0.87],[0.96,0.75],[0.95,0.56],[0.93,0.47],[0.88,0.41],[0.8,0.37],[0.73,0.32],[0.69,0.27],[0.66,0.16],[0.64,0.07],[0.6,0.0]],
  [[0.003,0.42],[0.03,0.51],[0.1,0.545],[0.18,0.555],[0.31,0.545],[0.45,0.52],[0.5,0.5],[0.52,0.44],[0.53,0.26],[0.52,0.14],[0.48,0.05],[0.42,0.0]],
  [[0.003,0.3],[0.04,0.39],[0.11,0.45],[0.21,0.47],[0.31,0.46],[0.41,0.42],[0.46,0.35],[0.47,0.24],[0.44,0.12],[0.37,0.05],[0.27,0.015],[0.19,0.0]],
  [[0.003,0.19],[0.04,0.31],[0.11,0.37],[0.21,0.395],[0.3,0.38],[0.38,0.32],[0.41,0.24],[0.4,0.14],[0.35,0.07],[0.25,0.025],[0.15,0.005],[0.09,0.0]],
  [[0.003,0.1],[0.025,0.21],[0.08,0.285],[0.16,0.33],[0.25,0.315],[0.32,0.26],[0.345,0.17],[0.33,0.1],[0.27,0.05],[0.18,0.02],[0.1,0.01],[0.04,0.02]]
];

var FONT = '"Noto Sans", sans-serif';
var GREY = '#b2b2b2';

// panel geometry
var panels = [
  {left: 243, top: 63, width: 299, height: 296, x: [-3.21, 3.54], y: [-3.67, 2.94], xt: stdTicks, yt: stdTicks, fmtX: 0, fmtY: 0, fs: 18, nfs: 26, xGap: 22, yGap: 32, cloud: stdCloud, pick: stdRandom, dot: 12, ps: 5.5},
  {left: 637, top: 59, width: 286, height: 300, x: [-6.48, 5.43], y: [-3.27, 7.1], xt: mixXTicks, yt: mixYTicks, fmtX: 0, fmtY: 1, fs: 16, nfs: 23, xGap: 20, yGap: 36, cloud: mixCloud, pick: mixRandom, dot: 10, ps: 5},
  {left: 1017, top: 61, width: 270, height: 284, x: [-0.049, 1.043], y: [-0.044, 1.02], xt: betaTicks, yt: betaTicks, fmtX: 2, fmtY: 2, fs: 15, nfs: 23, xGap: 20, yGap: 40, cloud: betaCloud, pick: betaRandom, dot: 10, ps: 5},
  {left: 243, top: 440, width: 300, height: 300, x: [-3.23, 3.51], y: [-3.71, 2.99], xt: stdTicks, yt: stdTicks, fmtX: 0, fmtY: 0, fs: 16, nfs: 23, xGap: 20, yGap: 24, cloud: stdCloud, pick: stdSpartan, dot: 10, ps: 5.5},
  {left: 636, top: 440, width: 286, height: 299, x: [-6.48, 5.42], y: [-3.28, 7.11], xt: mixXTicks, yt: mixYTicks, fmtX: 0, fmtY: 1, fs: 16, nfs: 23, xGap: 20, yGap: 36, cloud: mixCloud, pick: mixSpartan, dot: 10, ps: 5},
  {left: 1017, top: 443, width: 271, height: 283, x: [-0.049, 1.047], y: [-0.045, 1.021], xt: betaTicks, yt: betaTicks, fmtX: 2, fmtY: 2, fs: 15, nfs: 23, xGap: 20, yGap: 40, cloud: betaCloud, pick: betaSpartan, dot: 10, ps: 5}
];

function axisName(sub, size) {
  return {
    name: '{b|X}{s|' + sub + '}',
    nameTextStyle: {
      rich: {
        b: { fontSize: size, fontFamily: FONT, color: '#333', lineHeight: size + 4 },
        s: { fontSize: Math.round(size * 0.62), fontFamily: FONT, color: '#333', verticalAlign: 'bottom', lineHeight: size + 4 }
      }
    }
  };
}

function makeAxis(p, i, dim) {
  var isX = dim === 'x';
  var ticks = isX ? p.xt : p.yt;
  var digits = isX ? p.fmtX : p.fmtY;
  var n = axisName(isX ? '1' : '2', p.nfs);
  return {
    type: 'value', gridIndex: i,
    min: isX ? p.x[0] : p.y[0], max: isX ? p.x[1] : p.y[1],
    name: n.name, nameTextStyle: n.nameTextStyle,
    nameLocation: 'middle', nameGap: isX ? p.xGap : p.yGap,
    nameRotate: isX ? 0 : 90,
    axisLine: { show: false, onZero: false },
    splitLine: { show: false },
    axisTick: { show: true, length: 4, customValues: ticks, lineStyle: { color: '#666', width: 1 } },
    axisLabel: {
      customValues: ticks, color: '#7a7a7a', fontSize: p.fs, fontFamily: FONT, margin: 7,
      formatter: function (v) { return Number(v).toFixed(digits); }
    }
  };
}

function contourSeries(i, lines, closed) {
  return {
    type: 'custom', xAxisIndex: i, yAxisIndex: i, silent: true, z: 3, clip: true,
    data: lines.map(function (_, k) { return [0, 0, k]; }),
    renderItem: function (params, api) {
      var pts = lines[api.value(2)].map(function (q) { return api.coord(q); });
      return {
        type: closed ? 'polygon' : 'polyline',
        shape: { points: pts, smooth: 0.45 },
        style: { fill: 'none', stroke: '#2e2e2e', lineWidth: 1.1 }
      };
    }
  };
}

function circleSeries(i) {
  return {
    type: 'custom', xAxisIndex: i, yAxisIndex: i, silent: true, z: 3,
    data: stdRadii.map(function (r) { return [0, 0, r]; }),
    renderItem: function (params, api) {
      var c = api.coord([api.value(0), api.value(1)]);
      var s = api.size([api.value(2), api.value(2)]);
      return {
        type: 'ellipse',
        shape: { cx: c[0], cy: c[1], rx: s[0], ry: s[1] },
        style: { fill: 'none', stroke: '#2e2e2e', lineWidth: 1.1 }
      };
    }
  };
}

var grids = [], xAxes = [], yAxes = [], series = [];
panels.forEach(function (p, i) {
  grids.push({ left: p.left, top: p.top, width: p.width, height: p.height, show: true, borderColor: '#777', borderWidth: 1.5, backgroundColor: '#fff' });
  xAxes.push(makeAxis(p, i, 'x'));
  yAxes.push(makeAxis(p, i, 'y'));
  series.push({ type: 'scatter', xAxisIndex: i, yAxisIndex: i, data: p.cloud, symbolSize: p.ps, itemStyle: { color: GREY, opacity: 1 }, silent: true, z: 2 });
  var col = i % 3;
  if (col === 0) series.push(circleSeries(i));
  if (col === 1) series.push(contourSeries(i, mixLoops, true));
  if (col === 2) {
    series.push(contourSeries(i, betaLoops, true));
    series.push(contourSeries(i, betaCurves, false));
  }
  series.push({ type: 'scatter', xAxisIndex: i, yAxisIndex: i, data: p.pick, symbolSize: p.dot, itemStyle: { color: '#111', opacity: 1 }, silent: true, z: 4 });
});

var colX = [396, 745, 1117];
var texts = colTitles.map(function (t, k) {
  return { type: 'text', x: colX[k], y: 18, style: { text: t, font: '26px ' + FONT, fill: '#3a3a3a', align: 'center', verticalAlign: 'middle' } };
});
texts.push({ type: 'text', x: 10, y: 198, style: { text: rowLabels[0], font: '26px ' + FONT, fill: '#3a3a3a', align: 'left', verticalAlign: 'middle', lineHeight: 33 } });
texts.push({ type: 'text', x: 10, y: 580, style: { text: rowLabels[1], font: '26px ' + FONT, fill: '#3a3a3a', align: 'left', verticalAlign: 'middle' } });

var chart = echarts.init(document.getElementById('main'), null, { renderer: 'canvas' });
chart.setOption({
  animation: false,
  backgroundColor: '#fff',
  grid: grids,
  xAxis: xAxes,
  yAxis: yAxes,
  series: series,
  graphic: texts
});
</script>
</body>
</html>
